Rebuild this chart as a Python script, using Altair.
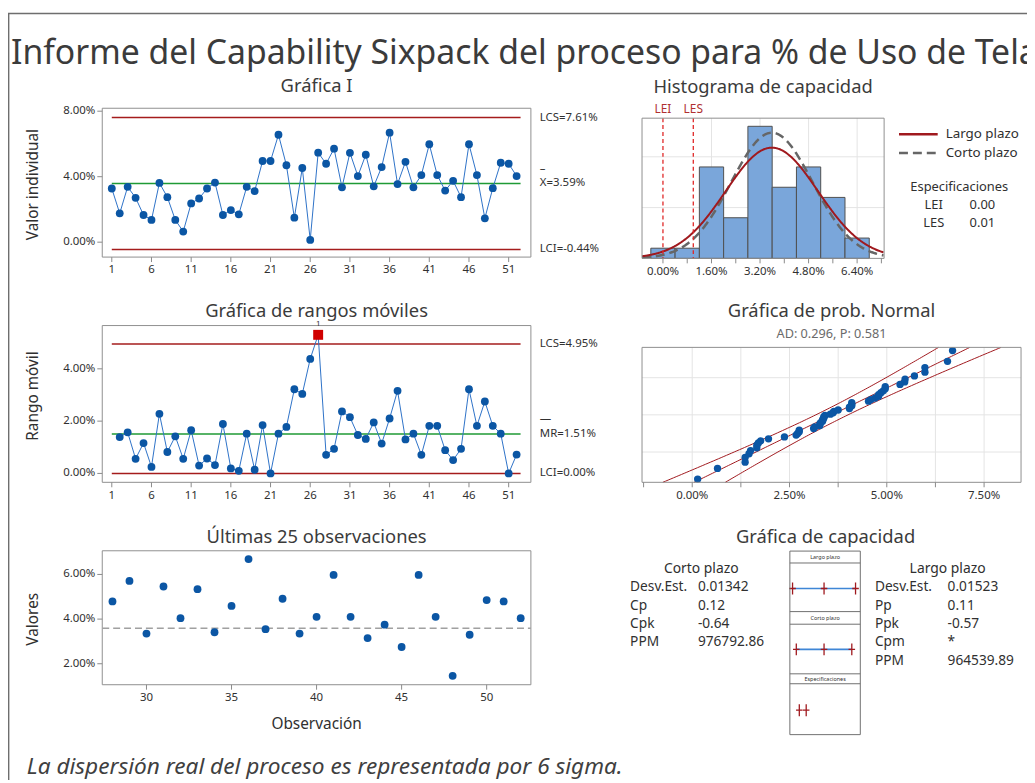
import altair as alt
import pandas as pd
from statistics import NormalDist

# ------------------------------------------------------------------ data
obs = list(range(1, 53))
uso = [3.28, 1.76, 3.38, 2.71, 1.66, 1.36, 3.62, 2.75, 1.36, 0.65,
       2.37, 2.67, 3.28, 3.64, 1.66, 1.96, 1.70, 3.38, 3.12, 4.96,
       4.96, 6.56, 4.70, 1.50, 4.53, 0.14, 5.47, 4.79, 5.71, 3.35,
       5.46, 4.04, 5.34, 3.41, 4.59, 6.69, 3.55, 4.91, 3.35, 4.10,
       5.98, 4.10, 3.15, 3.75, 2.75, 5.98, 4.10, 1.46, 3.30, 4.85,
       4.79, 4.04]
mr = [1.39, 1.57, 0.56, 1.16, 0.25, 2.28, 0.82, 1.42, 0.56, 1.65,
      0.30, 0.57, 0.32, 1.89, 0.19, 0.10, 1.52, 0.14, 1.85, 0.00,
      1.52, 1.78, 3.22, 3.04, 4.38, 5.30, 0.71, 0.94, 2.37, 2.15,
      1.47, 1.32, 1.95, 1.14, 2.10, 3.16, 1.30, 1.52, 0.71, 1.82,
      1.82, 0.89, 0.51, 0.94, 3.22, 1.82, 2.75, 1.82, 1.52, 0.00,
      0.72]
i_lcs, i_cl, i_lci = 7.61, 3.59, -0.44
mr_lcs, mr_cl, mr_lci = 4.95, 1.51, 0.00
hist_mid = [0.0, 0.8, 1.6, 2.4, 3.2, 4.0, 4.8, 5.6, 6.4]
hist_cnt = [1, 1, 9, 4, 13, 7, 9, 6, 2]
bin_w = 0.8
media = 3.59
sd_lp = 1.523      # % (largo plazo)
sd_cp = 1.342      # % (corto plazo)
spec_names = ["LEI", "LES"]
spec_vals = [0.0, 1.0]
ad_text = "AD: 0.296, P: 0.581"
prob_grid_p = [0.1, 0.5, 0.9]
cp_labels = ["Desv.Est.", "Cp", "Cpk", "PPM"]
cp_values = ["0.01342", "0.12", "-0.64", "976792.86"]
lp_labels = ["Desv.Est.", "Pp", "Ppk", "Cpm", "PPM"]
lp_values = ["0.01523", "0.11", "-0.57", "*", "964539.89"]

# tick values / tick labels
ticks_I = [1, 6, 11, 16, 21, 26, 31, 36, 41, 46, 51]
ticks_I_lab = [str(t) for t in ticks_I]
yt_I = [0, 4, 8]
yt_I_lab = ["0.00%", "4.00%", "8.00%"]
yt_MR = [0, 2, 4]
yt_MR_lab = ["0.00%", "2.00%", "4.00%"]
ticks_L = [30, 35, 40, 45, 50]
ticks_L_lab = [str(t) for t in ticks_L]
yt_L = [2, 4, 6]
yt_L_lab = ["2.00%", "4.00%", "6.00%"]
ticks_H = [0.0, 0.8, 1.6, 2.4, 3.2, 4.0, 4.8, 5.6, 6.4, 7.2]
ticks_H_lab = ["0.00%", "", "1.60%", "", "3.20%", "", "4.80%", "", "6.40%", ""]
grid_H_x = [1.6, 3.2, 4.8, 6.4]
grid_H_y = [5, 10]
ticks_P = [-1.25, 0.0, 1.25, 2.5, 3.75, 5.0, 6.25, 7.5]
ticks_P_lab = ["", "0.00%", "", "2.50%", "", "5.00%", "", "7.50%"]
grid_P_x = [0.0, 1.25, 2.5, 3.75, 5.0, 6.25, 7.5]
N = len(uso)

# ------------------------------------------------------------------ layout (px) & styles
W, H = 1027, 775
FONT = "Noto Sans"
BLUE = "#0B56A4"
LBLUE = "#2D72C8"
RED = "#A51C1C"
GREEN = "#1F9A35"
BOXC = "#8F8F8F"
TICKC = "#8A8A8A"
TXT = "#303030"
TITLEC = "#3B3B3B"
GRID = "#E4E4E4"
HFILL = "#7AA6DA"
SPECRED = "#E02727"
LAB = 11.5

LX = (95, 527)
I_Y = (248, 98)
MR_Y = (475, 317)
L_Y = (679, 544)
HX = (639, 883)
H_Y = (249.3, 108)
PX = (639, 1021)
P_Y = (475, 339)
CX = (788, 859)

xI_dom = [-0.2, 53.8]
yI_dom = [-0.91, 8.18]
yMR_dom = [-0.34, 5.655]
xL_dom = [27.4, 52.6]
yL_dom = [1.06, 7.06]
xH_dom = [-0.69, 7.29]
yH_dom = [0, 13.8]
xP_dom = [-1.29, 8.45]
zlim = NormalDist().inv_cdf(0.99)
yP_dom = [-zlim, zlim]
xC_dom = [-1.37, 8.85]


def S(dom, rng):
    return alt.Scale(domain=list(dom), range=list(rng), nice=False, zero=False)


def txt(t, x, y, size, color=TXT, align="center", baseline="middle", **kw):
    return alt.Chart(pd.DataFrame({"t": [t]})).mark_text(
        font=FONT, fontSize=size, color=color, align=align, baseline=baseline, **kw
    ).encode(x=alt.value(x), y=alt.value(y), text="t:N")


def seg(x0, x1, y0, y1, color, width=1.0, dash=None):
    kw = dict(color=color, strokeWidth=width)
    if dash:
        kw["strokeDash"] = dash
    return alt.Chart(pd.DataFrame({"a": [0]})).mark_rule(**kw).encode(
        x=alt.value(x0), x2=alt.value(x1), y=alt.value(y0), y2=alt.value(y1))


def frame(xs, ys, xd, yd):
    d = pd.DataFrame({"x0": [xd[0]], "x1": [xd[1]], "y0": [yd[0]], "y1": [yd[1]]})
    return alt.Chart(d).mark_rect(fillOpacity=0, stroke=BOXC, strokeWidth=1).encode(
        x=alt.X("x0:Q", scale=xs, axis=None), x2="x1:Q",
        y=alt.Y("y0:Q", scale=ys, axis=None), y2="y1:Q")


def x_axis(xs, vals, labels, y0):
    d = pd.DataFrame({"v": vals, "t": labels})
    ticks = alt.Chart(d).mark_rule(color=TICKC, strokeWidth=1).encode(
        x=alt.X("v:Q", scale=xs, axis=None), y=alt.value(y0), y2=alt.value(y0 + 5))
    labs = alt.Chart(d).mark_text(font=FONT, fontSize=LAB, color=TXT, baseline="top").encode(
        x=alt.X("v:Q", scale=xs, axis=None), y=alt.value(y0 + 7.5), text="t:N")
    return [ticks, labs]


def y_axis(ys, vals, labels, x0):
    d = pd.DataFrame({"v": vals, "t": labels})
    ticks = alt.Chart(d).mark_rule(color=TICKC, strokeWidth=1).encode(
        y=alt.Y("v:Q", scale=ys, axis=None), x=alt.value(x0 - 5), x2=alt.value(x0))
    labs = alt.Chart(d).mark_text(font=FONT, fontSize=LAB, color=TXT, align="right",
                                  baseline="middle").encode(
        y=alt.Y("v:Q", scale=ys, axis=None), x=alt.value(x0 - 7), text="t:N")
    return [ticks, labs]


def ctrl_lines(ys, xs, vals, color, width=1.5):
    return alt.Chart(pd.DataFrame({"v": vals})).transform_calculate(
        a=str(obs[0]), b=str(obs[-1] + 0.5)
    ).mark_rule(color=color, strokeWidth=width).encode(
        x=alt.X("a:Q", scale=xs, axis=None), x2="b:Q",
        y=alt.Y("v:Q", scale=ys, axis=None))


def right_labels(ys, vals, texts):
    return alt.Chart(pd.DataFrame({"v": vals, "t": texts})).mark_text(
        font=FONT, fontSize=LAB, color=TXT, align="left", baseline="middle"
    ).encode(x=alt.value(LX[1] + 9), y=alt.Y("v:Q", scale=ys, axis=None), text="t:N")


def bar_over(ys, val, char, dy):
    return alt.Chart(pd.DataFrame({"v": [val], "t": [char]})).mark_text(
        font=FONT, fontSize=LAB, color=TXT, align="left", baseline="middle", dy=dy
    ).encode(x=alt.value(LX[1] + 9), y=alt.Y("v:Q", scale=ys, axis=None), text="t:N")


layers = []

# ------------------------------------------------------------------ Gráfica I
xIs, yIs = S(xI_dom, LX), S(yI_dom, I_Y)
dfI = pd.DataFrame({"obs": obs, "v": uso})
panel_I = alt.layer(
    frame(xIs, yIs, xI_dom, yI_dom),
    *x_axis(xIs, ticks_I, ticks_I_lab, I_Y[0]),
    *y_axis(yIs, yt_I, yt_I_lab, LX[0]),
    ctrl_lines(yIs, xIs, [i_lcs, i_lci], RED),
    ctrl_lines(yIs, xIs, [i_cl], GREEN),
    alt.Chart(dfI).mark_line(color=LBLUE, strokeWidth=1).encode(
        x=alt.X("obs:Q", scale=xIs, axis=None), y=alt.Y("v:Q", scale=yIs, axis=None)),
    alt.Chart(dfI).mark_point(filled=True, size=62, color=BLUE, opacity=1).encode(
        x=alt.X("obs:Q", scale=xIs, axis=None), y=alt.Y("v:Q", scale=yIs, axis=None)),
    right_labels(yIs, [i_lcs, i_cl, i_lci],
                 [f"LCS={i_lcs:.2f}%", f"X={i_cl:.2f}%", f"LCI={i_lci:.2f}%"]),
    bar_over(yIs, i_cl, "–", -14),
)
layers.append(panel_I)

# ------------------------------------------------------------------ Rangos móviles
yMRs = S(yMR_dom, MR_Y)
xMRs = S(xI_dom, LX)
dfMR = pd.DataFrame({"obs": obs[1:], "mr": mr})
panel_MR = alt.layer(
    frame(xMRs, yMRs, xI_dom, yMR_dom),
    *x_axis(xMRs, ticks_I, ticks_I_lab, MR_Y[0]),
    *y_axis(yMRs, yt_MR, yt_MR_lab, LX[0]),
    ctrl_lines(yMRs, xMRs, [mr_lcs, mr_lci], RED),
    ctrl_lines(yMRs, xMRs, [mr_cl], GREEN),
    alt.Chart(dfMR).mark_line(color=LBLUE, strokeWidth=1).encode(
        x=alt.X("obs:Q", scale=xMRs, axis=None), y=alt.Y("mr:Q", scale=yMRs, axis=None)),
    alt.Chart(dfMR).transform_filter(f"datum.mr <= {mr_lcs}").mark_point(
        filled=True, size=62, color=BLUE, opacity=1).encode(
        x=alt.X("obs:Q", scale=xMRs, axis=None), y=alt.Y("mr:Q", scale=yMRs, axis=None)),
    alt.Chart(dfMR).transform_filter(f"datum.mr > {mr_lcs}").mark_point(
        filled=True, size=100, shape="square", color="#D00000", opacity=1).encode(
        x=alt.X("obs:Q", scale=xMRs, axis=None), y=alt.Y("mr:Q", scale=yMRs, axis=None)),
    alt.Chart(dfMR).transform_filter(f"datum.mr > {mr_lcs}").mark_text(
        font=FONT, fontSize=8, color=TXT, dy=-11, text="1").encode(
        x=alt.X("obs:Q", scale=xMRs, axis=None), y=alt.Y("mr:Q", scale=yMRs, axis=None)),
    right_labels(yMRs, [mr_lcs, mr_cl, mr_lci],
                 [f"LCS={mr_lcs:.2f}%", f"MR={mr_cl:.2f}%", f"LCI={mr_lci:.2f}%"]),
    bar_over(yMRs, mr_cl, "—", -15),
)
layers.append(panel_MR)

# ------------------------------------------------------------------ Últimas 25
xLs, yLs = S(xL_dom, LX), S(yL_dom, L_Y)
panel_L = alt.layer(
    frame(xLs, yLs, xL_dom, yL_dom),
    *x_axis(xLs, ticks_L, ticks_L_lab, L_Y[0]),
    *y_axis(yLs, yt_L, yt_L_lab, LX[0]),
    alt.Chart(pd.DataFrame({"v": [media]})).mark_rule(
        color="#A0A0A0", strokeWidth=1.5, strokeDash=[7, 4]).encode(
        x=alt.value(LX[0]), x2=alt.value(LX[1]), y=alt.Y("v:Q", scale=yLs, axis=None)),
    alt.Chart(dfI).transform_filter(f"datum.obs > {obs[-1] - 25}").mark_point(
        filled=True, size=62, color=BLUE, opacity=1).encode(
        x=alt.X("obs:Q", scale=xLs, axis=None), y=alt.Y("v:Q", scale=yLs, axis=None)),
)
layers.append(panel_L)

# ------------------------------------------------------------------ Histograma
xHs, yHs = S(xH_dom, HX), S(yH_dom, H_Y)


def dens(sd):
    return f"{N * bin_w}*exp(-0.5*pow((datum.x-{media})/{sd},2))/({sd}*sqrt(2*PI))"


hseq = alt.sequence(xH_dom[0], xH_dom[1], 0.02, as_="x")
panel_H = alt.layer(
    alt.Chart(pd.DataFrame({"g": grid_H_x})).mark_rule(color=GRID, strokeWidth=1).encode(
        x=alt.X("g:Q", scale=xHs, axis=None), y=alt.value(H_Y[1]), y2=alt.value(H_Y[0])),
    alt.Chart(pd.DataFrame({"g": grid_H_y})).mark_rule(color=GRID, strokeWidth=1).encode(
        y=alt.Y("g:Q", scale=yHs, axis=None), x=alt.value(HX[0]), x2=alt.value(HX[1])),
    alt.Chart(pd.DataFrame({"mid": hist_mid, "n": hist_cnt})).transform_calculate(
        x0=f"datum.mid - {bin_w / 2}", x1=f"datum.mid + {bin_w / 2}", y0="0"
    ).mark_rect(fill=HFILL, stroke="#505050", strokeWidth=1).encode(
        x=alt.X("x0:Q", scale=xHs, axis=None), x2="x1:Q",
        y=alt.Y("n:Q", scale=yHs, axis=None), y2="y0:Q"),
    alt.Chart(hseq).transform_calculate(d=dens(sd_cp)).mark_line(
        color="#666666", strokeWidth=2.5, strokeDash=[9, 5]).encode(
        x=alt.X("x:Q", scale=xHs, axis=None), y=alt.Y("d:Q", scale=yHs, axis=None)),
    alt.Chart(hseq).transform_calculate(d=dens(sd_lp)).mark_line(
        color="#A0191E", strokeWidth=2).encode(
        x=alt.X("x:Q", scale=xHs, axis=None), y=alt.Y("d:Q", scale=yHs, axis=None)),
    alt.Chart(pd.DataFrame({"s": spec_names, "x": spec_vals})).mark_rule(
        color=SPECRED, strokeWidth=1.3, strokeDash=[4, 3]).encode(
        x=alt.X("x:Q", scale=xHs, axis=None), y=alt.value(H_Y[1]), y2=alt.value(H_Y[0])),
    alt.Chart(pd.DataFrame({"s": spec_names, "x": spec_vals})).mark_text(
        font=FONT, fontSize=12, color="#B03030", baseline="middle").encode(
        x=alt.X("x:Q", scale=xHs, axis=None), y=alt.value(H_Y[1] - 9.5), text="s:N"),
    frame(xHs, yHs, xH_dom, yH_dom),
    *x_axis(xHs, ticks_H, ticks_H_lab, H_Y[0]),
)
layers.append(panel_H)

# legend + especificaciones (annotations)
layers += [
    seg(898, 937, 124.3, 124.3, "#A0191E", 2.5),
    seg(898, 937, 143, 143, "#666666", 2.5, [9, 5]),
    txt("Largo plazo", 945, 124.3, 13.5, align="left"),
    txt("Corto plazo", 945, 143, 13.5, align="left"),
    txt("Especificaciones", 958.7, 177, 13),
    txt(spec_names[0], 933, 196, 13),
    txt(f"{spec_vals[0] / 100:.2f}", 982, 196, 13),
    txt(spec_names[1], 933, 214, 13),
    txt(f"{spec_vals[1] / 100:.2f}", 982, 214, 13),
]

# ------------------------------------------------------------------ Prob. Normal
xPs, yPs = S(xP_dom, PX), S(yP_dom, P_Y)
zstep = 2 * zlim / 120
panel_P = alt.layer(
    alt.Chart(pd.DataFrame({"g": grid_P_x})).mark_rule(color=GRID, strokeWidth=1).encode(
        x=alt.X("g:Q", scale=xPs, axis=None), y=alt.value(P_Y[1]), y2=alt.value(P_Y[0])),
    alt.Chart(pd.DataFrame({"p": prob_grid_p})).transform_calculate(
        z="quantileNormal(datum.p)").mark_rule(color=GRID, strokeWidth=1).encode(
        y=alt.Y("z:Q", scale=yPs, axis=None), x=alt.value(PX[0]), x2=alt.value(PX[1])),
    alt.Chart(alt.sequence(-zlim, zlim + zstep / 2, zstep, as_="z")).transform_calculate(
        c=f"{media} + {sd_lp}*datum.z",
        lo=f"datum.c - 1.96*{sd_lp}*sqrt(1/{N} + datum.z*datum.z/(2*({N}-1)))",
        hi=f"datum.c + 1.96*{sd_lp}*sqrt(1/{N} + datum.z*datum.z/(2*({N}-1)))",
    ).transform_fold(["lo", "c", "hi"], as_=["k", "x"]).mark_line(
        color="#A0191E", strokeWidth=1).encode(
        x=alt.X("x:Q", scale=xPs, axis=None),
        y=alt.Y("z:Q", scale=yPs, axis=None), detail="k:N", order="z:Q"),
    alt.Chart(pd.DataFrame({"v": uso})).transform_window(
        r="row_number()", sort=[alt.SortField("v", order="ascending")]
    ).transform_calculate(z=f"quantileNormal((datum.r - 0.3)/({N} + 0.4))").mark_point(
        filled=True, size=55, color=BLUE, opacity=1).encode(
        x=alt.X("v:Q", scale=xPs, axis=None), y=alt.Y("z:Q", scale=yPs, axis=None)),
    frame(xPs, yPs, xP_dom, yP_dom),
    *x_axis(xPs, ticks_P, ticks_P_lab, P_Y[0]),
)
layers.append(panel_P)

# ------------------------------------------------------------------ Capacidad (tabla)
rowS = alt.Scale(domain=[0, 5], range=[562, 655], nice=False, zero=False)


def col_text(labels, x, align="left"):
    d = pd.DataFrame({"row": list(range(1, len(labels) + 1)), "t": labels})
    return alt.Chart(d).mark_text(font=FONT, fontSize=13.8, color=TXT, align=align,
                                  baseline="middle").encode(
        x=alt.value(x), y=alt.Y("row:Q", scale=rowS, axis=None), text="t:N")


def head_text(t, x):
    return alt.Chart(pd.DataFrame({"row": [0], "t": [t]})).mark_text(
        font=FONT, fontSize=14, color=TXT, baseline="middle").encode(
        x=alt.value(x), y=alt.Y("row:Q", scale=rowS, axis=None), text="t:N")


panel_T = alt.layer(
    head_text("Corto plazo", 698.7),
    col_text(cp_labels, 627),
    col_text(cp_values, 695.3),
    head_text("Largo plazo", 947),
    col_text(lp_labels, 873.7),
    col_text(lp_values, 947),
)
layers.append(panel_T)

# ------------------------------------------------------------------ Capacidad (gráfica)
rows_C = ["Largo plazo", "Corto plazo", "Especificaciones"]
xCs = S(xC_dom, CX)
yCs = alt.Scale(type="point", domain=rows_C, range=[582, 704.7], padding=0)
CROSS = "M-0.55,0L0.55,0M0,-1L0,1"
dfC = pd.DataFrame({"k": rows_C[:2], "sd": [sd_lp, sd_cp]})
cc = alt.Chart(dfC).transform_calculate(
    lo=f"{media} - 3*datum.sd", mid=f"{media}", hi=f"{media} + 3*datum.sd")
panel_C = alt.layer(
    cc.mark_rule(color="#3F86D6", strokeWidth=1.6).encode(
        x=alt.X("lo:Q", scale=xCs, axis=None), x2="hi:Q",
        y=alt.Y("k:N", scale=yCs, axis=None)),
    cc.transform_fold(["lo", "mid", "hi"], as_=["w", "x"]).mark_point(
        shape=CROSS, size=144, filled=False, color="#A0191E", strokeWidth=1.3, opacity=1).encode(
        x=alt.X("x:Q", scale=xCs, axis=None), y=alt.Y("k:N", scale=yCs, axis=None)),
    alt.Chart(pd.DataFrame({"k": [rows_C[2]] * 2, "x": spec_vals})).mark_point(
        shape=CROSS, size=144, filled=False, color="#A0191E", strokeWidth=1.3, opacity=1).encode(
        x=alt.X("x:Q", scale=xCs, axis=None), y=alt.Y("k:N", scale=yCs, axis=None)),
)
layers.append(panel_C)

# capability box outline
BX0, BX1 = CX
for yy in [556.3, 605.3, 618, 668, 678]:
    layers.append(seg(BX0, BX1, yy, yy, "#707070", 1))
layers.append(alt.Chart(pd.DataFrame({"a": [0]})).mark_rect(
    fillOpacity=0, stroke="#707070", strokeWidth=1).encode(
    x=alt.value(BX0), x2=alt.value(BX1), y=alt.value(544.3), y2=alt.value(729.3)))
mid_cx = (BX0 + BX1) / 2
layers += [
    txt("Largo plazo", mid_cx, 550.5, 5.5),
    txt("Corto plazo", mid_cx, 611.8, 5.5),
    txt("Especificaciones", mid_cx, 673, 5.5),
]

# ------------------------------------------------------------------ titles, frame, note
layers += [
    txt("Informe del Capability Sixpack del proceso para % de Uso de Tela", 3, 53, 34.0,
        color=TITLEC, align="left", baseline="alphabetic"),
    txt("Gráfica I", 311, 76, 18.5, color=TITLEC),
    txt("Gráfica de rangos móviles", 311, 302, 18.5, color=TITLEC),
    txt("Últimas 25 observaciones", 311, 530, 18.5, color=TITLEC),
    txt("Histograma de capacidad", 761, 77, 18.5, color=TITLEC),
    txt("Gráfica de prob. Normal", 830, 302.7, 18.5, color=TITLEC),
    txt(ad_text, 830, 325.3, 12.8, color="#6A6A6A"),
    txt("Gráfica de capacidad", 824, 530.3, 18.5, color=TITLEC),
    txt("Valor individual", 25, 175, 15.5, angle=270),
    txt("Rango móvil", 25, 388, 15.5, angle=270),
    txt("Valores", 25, 613, 15.5, angle=270),
    txt("Observación", 311, 719, 15.5),
    txt("La dispersión real del proceso es representada por 6 sigma.", 19, 769, 22.8,
        color="#404040", align="left", baseline="alphabetic", fontStyle="italic"),
    seg(0.7, 0.7, 2, H, "#6E6E6E", 1.4),
    seg(0, W, 2.5, 2.5, "#6E6E6E", 1.4),
]

chart = alt.layer(*layers).resolve_scale(
    x="independent", y="independent"
).properties(
    width=W, height=H, padding=0, autosize=alt.AutoSizeParams(type="none")
).configure_view(strokeWidth=0)

chart.save("out.html", embed_options={"renderer": "svg", "actions": False})
